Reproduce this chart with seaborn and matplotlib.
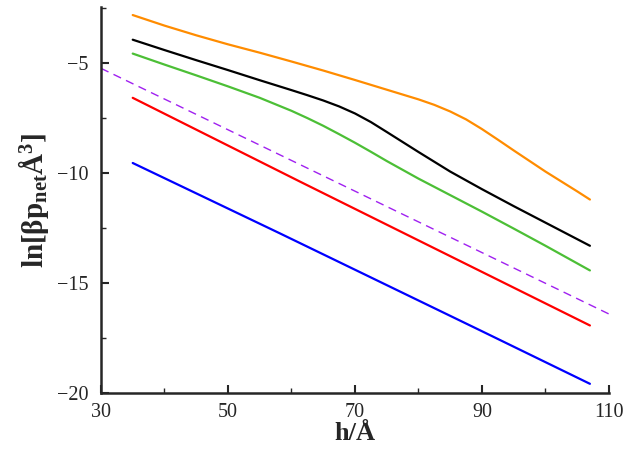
import numpy as np
import pandas as pd
import matplotlib
matplotlib.use("Agg")
import matplotlib.pyplot as plt
import seaborn as sns
from matplotlib.ticker import MultipleLocator, FixedLocator

# ---- data ----
h_orange = [35, 40, 45, 50, 55, 60, 65, 70, 75, 80, 82.5, 85, 87.5, 90, 92.5, 95, 100, 105, 107]
orange = [-2.82, -3.30, -3.74, -4.15, -4.53, -4.93, -5.34, -5.77, -6.21, -6.65, -6.90,
          -7.20, -7.56, -8.00, -8.48, -8.97, -9.93, -10.83, -11.20]
h_black = [35, 40, 45, 50, 55, 60, 62.5, 65, 67.5, 70, 72.5, 75, 80, 85, 90, 95, 100, 105, 107]
black = [-3.94, -4.41, -4.87, -5.32, -5.78, -6.23, -6.46, -6.70, -6.97, -7.29, -7.68,
         -8.13, -9.04, -9.93, -10.73, -11.50, -12.25, -13.00, -13.30]
h_green = [35, 40, 45, 50, 55, 60, 62.5, 65, 67.5, 70, 72.5, 75, 80, 85, 90, 95, 100, 105, 107]
green = [-4.57, -5.07, -5.56, -6.06, -6.58, -7.17, -7.50, -7.85, -8.23, -8.62, -9.03,
         -9.45, -10.25, -11.00, -11.75, -12.52, -13.30, -14.10, -14.42]
h_red = [35, 61.3, 107]
red = [-6.58, -10.38, -16.92]
h_blue = [35, 58.2, 89.7, 107]
blue = [-9.54, -12.74, -17.14, -19.57]
h_ref = [30, 110]
ref = [-5.24, -16.40]

x_ticks = [30, 50, 70, 90, 110]
y_ticks = [-20, -15, -10, -5]

sns.set_style("ticks")
plt.rcParams['font.family'] = ['Liberation Serif', 'DejaVu Serif']
plt.rcParams['mathtext.fontset'] = 'custom'
plt.rcParams['mathtext.rm'] = 'Liberation Serif:bold'
plt.rcParams['mathtext.it'] = 'Liberation Serif:italic:bold'
plt.rcParams['mathtext.bf'] = 'Liberation Serif:bold'

fig = plt.figure(figsize=(6.26, 4.51), dpi=100)
ax = fig.add_axes([0.1613, 0.128, 0.8115, 0.8567])

series = [(h_orange, orange, '#ff8c00'), (h_black, black, '#000000'),
          (h_green, green, '#4cbf36'), (h_red, red, '#ff0000'),
          (h_blue, blue, '#0000ff')]
for xs, vals, col in series:
    sns.lineplot(x=xs, y=vals, color=col, lw=1.6, ax=ax, sort=False)
sns.lineplot(x=h_ref, y=ref, color='#a020f0', lw=1.0, ax=ax, sort=False,
             linestyle=(0, (6, 4)))

ax.set_xlim(30, 110)
ax.set_ylim(-20, -2.45)
ax.xaxis.set_major_locator(FixedLocator(x_ticks))
ax.xaxis.set_minor_locator(MultipleLocator(10))
ax.yaxis.set_major_locator(FixedLocator(y_ticks))
ax.yaxis.set_minor_locator(MultipleLocator(2.5))
ax.tick_params(which='major', direction='in', length=6, width=1.5, labelsize=14.5, pad=7)
ax.tick_params(axis='y', which='major', pad=9)
ax.tick_params(which='minor', direction='in', length=3.5, width=1.0)
for s in ['top', 'right']:
    ax.spines[s].set_visible(False)
for s in ['left', 'bottom']:
    ax.spines[s].set_linewidth(1.8)

ax.set_xlabel('h/Å', fontsize=19, fontweight='bold', labelpad=0)
ax.set_ylabel(r'$\mathrm{ln[\beta p_{net}Å^{3}]}$', fontsize=21, labelpad=4)

fig.savefig('out.png', dpi=100)
